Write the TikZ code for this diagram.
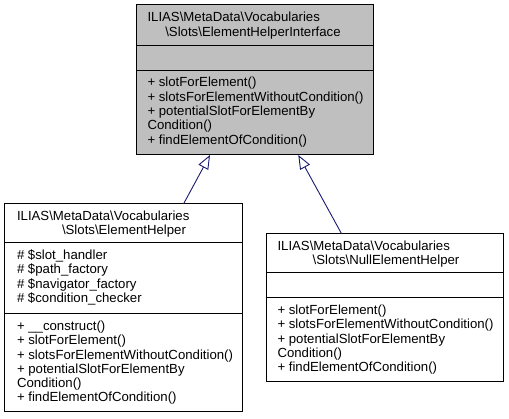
\documentclass[tikz,border=0pt]{standalone}
\usepackage{fontspec}
\setmainfont{Liberation Sans}
\usetikzlibrary{arrows.meta}
\definecolor{edgeblue}{HTML}{191970}
\definecolor{boxgray}{HTML}{BFBFBF}
\tikzset{
  classbox/.style={draw=black, line width=1pt, inner sep=0pt, outer sep=0pt, anchor=north west, rectangle},
  txt/.style={inner sep=0pt, outer sep=0pt, font=\fontsize{13.2}{14.3}\selectfont},
  sepline/.style={draw=black, line width=1pt},
  inherit/.style={draw=edgeblue, line width=0.9pt, -{Triangle[open, length=14pt, width=11pt, fill=white]}}
}
\begin{document}
\begin{tikzpicture}[x=1pt,y=-1pt]
\useasboundingbox (0,0) rectangle (509,419);
% boxes
\node[classbox, fill=boxgray, minimum width=237pt, minimum height=150pt] (iface) at (136,5) {};
\node[classbox, fill=white, minimum width=238pt, minimum height=208pt] (eh) at (4,204) {};
\node[classbox, fill=white, minimum width=237pt, minimum height=148pt] (neh) at (266,234) {};
% separators
\draw[sepline] ([yshift=-40.7pt]iface.north west) -- ([yshift=-40.7pt]iface.north east);
\draw[sepline] ([yshift=-65.7pt]iface.north west) -- ([yshift=-65.7pt]iface.north east);
\draw[sepline] ([yshift=-39pt]eh.north west) -- ([yshift=-39pt]eh.north east);
\draw[sepline] ([yshift=-110pt]eh.north west) -- ([yshift=-110pt]eh.north east);
\draw[sepline] ([yshift=-39pt]neh.north west) -- ([yshift=-39pt]neh.north east);
\draw[sepline] ([yshift=-64pt]neh.north west) -- ([yshift=-64pt]neh.north east);
% interface texts
\node[txt, anchor=base west] (it1) at (147.5,21.7) {ILIAS\textbackslash MetaData\textbackslash Vocabularies};
\node[txt, anchor=base] (it2) at (253,36.5) {\textbackslash Slots\textbackslash ElementHelperInterface};
\node[txt, anchor=base west] (im1) at (147.5,87) {+ slotForElement()};
\node[txt, anchor=base west] (im2) at (147.5,101.3) {+ slotsForElementWithoutCondition()};
\node[txt, anchor=base west] (im3) at (147.5,115.6) {+ potentialSlotForElementBy};
\node[txt, anchor=base west] (im4) at (147.5,129.9) {Condition()};
\node[txt, anchor=base west] (im5) at (147.5,144.2) {+ findElementOfCondition()};
% ElementHelper texts
\node[txt, anchor=base west] (et1) at (17,220.5) {ILIAS\textbackslash MetaData\textbackslash Vocabularies};
\node[txt, anchor=base] (et2) at (124,235) {\textbackslash Slots\textbackslash ElementHelper};
\node[txt, anchor=base west] (ea1) at (17,259.5) {\# \$slot\_handler};
\node[txt, anchor=base west] (ea2) at (17,273.8) {\# \$path\_factory};
\node[txt, anchor=base west] (ea3) at (17,288.1) {\# \$navigator\_factory};
\node[txt, anchor=base west] (ea4) at (17,302.4) {\# \$condition\_checker};
\node[txt, anchor=base west] (em1) at (17,330.5) {+ \_\_construct()};
\node[txt, anchor=base west] (em2) at (17,344.8) {+ slotForElement()};
\node[txt, anchor=base west] (em3) at (17,359.1) {+ slotsForElementWithoutCondition()};
\node[txt, anchor=base west] (em4) at (17,373.4) {+ potentialSlotForElementBy};
\node[txt, anchor=base west] (em5) at (17,387.7) {Condition()};
\node[txt, anchor=base west] (em6) at (17,402) {+ findElementOfCondition()};
% NullElementHelper texts
\node[txt, anchor=base west] (nt1) at (277.5,250.5) {ILIAS\textbackslash MetaData\textbackslash Vocabularies};
\node[txt, anchor=base] (nt2) at (386,265) {\textbackslash Slots\textbackslash NullElementHelper};
\node[txt, anchor=base west] (nm1) at (277.5,314.5) {+ slotForElement()};
\node[txt, anchor=base west] (nm2) at (277.5,328.8) {+ slotsForElementWithoutCondition()};
\node[txt, anchor=base west] (nm3) at (277.5,343.1) {+ potentialSlotForElementBy};
\node[txt, anchor=base west] (nm4) at (277.5,357.4) {Condition()};
\node[txt, anchor=base west] (nm5) at (277.5,371.7) {+ findElementOfCondition()};
% connectors
\coordinate (ehtop) at (183.5,204);
\coordinate (ifaceL) at (210,155);
\coordinate (nehtop) at (341.7,234);
\coordinate (ifaceR) at (298.3,155);
\draw[inherit] (ehtop) -- (ifaceL);
\draw[inherit] (nehtop) -- (ifaceR);
\end{tikzpicture}
\end{document}
